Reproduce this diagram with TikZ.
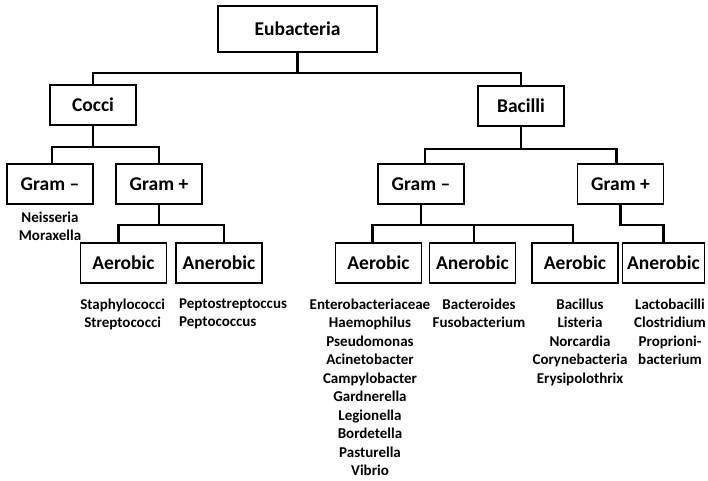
\documentclass[tikz,border=0pt]{standalone}
\usepackage{fontspec}
\setmainfont{Carlito}
\usepackage{tikz}
\usetikzlibrary{positioning}

\tikzset{
    taxon/.style={draw, line width=1.8pt, minimum width=86pt, minimum height=40pt, inner sep=2pt,
        font=\fontsize{19.5}{22}\selectfont\bfseries},
    members/.style={font=\fontsize{15}{18.5}\selectfont\bfseries, align=center, inner sep=0pt, anchor=north},
    branch/.style={line width=2.6pt}
}

\begin{document}
\begin{tikzpicture}[x=1pt,y=-1pt]
            \useasboundingbox (0,0) rectangle (708,480);

            % Root of the tree
            \node[taxon, minimum width=159pt, minimum height=46pt] (euba) at (297.5,29) {Eubacteria};

            % Cocci and Bacilli
            \node[taxon] (cocci) at (93,105) {Cocci};
            \node[taxon] (bacilli) at (521,106) {Bacilli};

            % Gram staining
            \node[taxon] (cgneg) at (50,184) {Gram –};
            \node[taxon] (cgpos) at (159,184) {Gram +};
            \node[taxon] (bgneg) at (421,184) {Gram –};
            \node[taxon] (bgpos) at (620.5,184) {Gram +};

            % Oxygen needs
            \node[taxon] (caer) at (123.5,263) {Aerobic};
            \node[taxon] (canaer) at (219,263) {Anerobic};
            \node[taxon] (bnaer) at (378.5,263) {Aerobic};
            \node[taxon] (bnanaer) at (472.5,263) {Anerobic};
            \node[taxon] (bpaer) at (575,263) {Aerobic};
            \node[taxon, minimum width=82pt] (bpanaer) at (663.5,263) {Anerobic};

            % Branches
            \draw[branch] (euba.south) -- +(0,20) -| (cocci.north);
            \draw[branch] (euba.south) -- +(0,20) -| (bacilli.north);
            \draw[branch] (cocci.south) -- +(0,21) -| ([xshift=2]cgneg.north);
            \draw[branch] (cocci.south) -- +(0,21) -| (cgpos.north);
            \draw[branch] (cgpos.south) -- +(0,20) -| ([xshift=-5]caer.north);
            \draw[branch] (cgpos.south) -- +(0,20) -| ([xshift=5]canaer.north);
            \draw[branch] (bacilli.south) -- +(0,22) -| ([xshift=4]bgneg.north);
            \draw[branch] (bacilli.south) -- +(0,22) -| ([xshift=-4]bgpos.north);
            \draw[branch] (bgneg.south) -- +(0,20) -| ([xshift=-6]bnaer.north);
            \draw[branch] (bgneg.south) -- +(0,20) -| ([xshift=-2]bpaer.north);
            \draw[branch] (bgneg.south) -- +(0,20) -| ([xshift=1.5]bnanaer.north);
            \draw[branch] (bgpos.south) -- +(0,20) -| (bpanaer.north);

            % Examples under each group
            \node[members] (ncoc) at (50,211.5) {Neisseria\\Moraxella};
            \node[members] (acoc) at (122.7,298.5) {Staphylococci\\Streptococci};
            \node[members, anchor=north west, align=left] (ancoc) at (179,298.5) {Peptostreptoccus\\Peptococcus};
            \node[members] (anbac) at (370,298.5) {Enterobacteriaceae\\Haemophilus\\Pseudomonas\\Acinetobacter\\Campylobacter\\Gardnerella\\Legionella\\Bordetella\\Pasturella\\Vibrio};
            \node[members] (ananbac) at (479,298.5) {Bacteroides\\Fusobacterium};
            \node[members] (apbac) at (580,298.5) {Bacillus\\Listeria\\Norcardia\\Corynebacteria\\Erysipolothrix};
            \node[members] (anpbac) at (670,298.5) {Lactobacilli\\Clostridium\\Proprioni-\\bacterium};
\end{tikzpicture}
\end{document}
